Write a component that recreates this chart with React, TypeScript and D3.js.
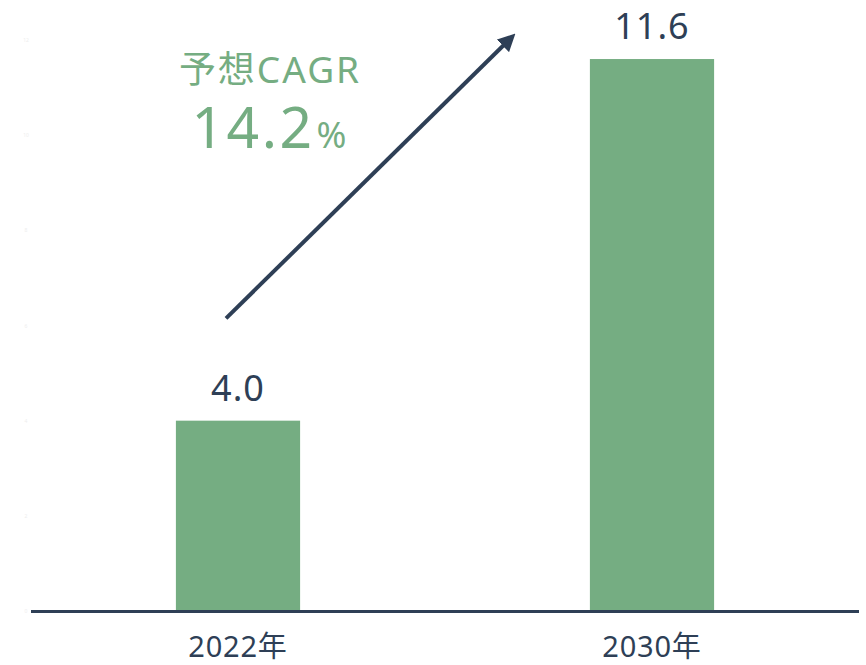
import React from "react";
import * as d3 from "d3";

// data
const years = ["2022年", "2030年"];
const values = [4.0, 11.6];
const yTicks = [0, 2, 4, 6, 8, 10, 12];
const cagrTitle = "予想CAGR";
const cagrValue = "14.2";

const W = 866;
const H = 665;
const FONT = "'Noto Sans', 'Noto Sans CJK JP', sans-serif";
const BAR = "#75ad82";
const DARK = "#2e3f56";

export default function App() {
  const x = d3.scaleBand<string>()
    .domain(years)
    .range([31, 859])
    .paddingInner(0.7)
    .paddingOuter(0.35);

  const y = d3.scaleLinear().domain([0, 12]).range([611, 40]);

  // arrow goes from above the first bar up toward the second one
  const x0 = x(years[0])! + x.bandwidth() / 2 - 12;
  const y0 = y(6.15);
  const x1 = x(years[1])! - 82;
  const y1 = y(11.98);

  return (
    <svg width={W} height={H} style={{ position: "absolute", left: 0, top: 0, background: "#fff" }}>
      <defs>
        <marker id="arrowhead" viewBox="0 0 10 10" refX="4" refY="5"
          markerWidth="4.4" markerHeight="4.4" orient="auto">
          <path d="M0,0 L10,5 L0,10 z" fill={DARK} />
        </marker>
      </defs>

      {/* faint y tick labels */}
      <g>
        {yTicks.map(t => (
          <text key={t} x={26} y={y(t) + 2} textAnchor="middle" fontSize={5}
            fontFamily={FONT} fill="#eeeeee">{t}</text>
        ))}
      </g>

      {/* bars */}
      <g>
        {years.map((c, i) => (
          <rect key={c} x={x(c)} y={y(values[i])} width={x.bandwidth()}
            height={y(0) - y(values[i])} fill={BAR} />
        ))}
      </g>

      {/* value labels */}
      <g>
        {years.map((c, i) => (
          <text key={c} x={x(c)! + x.bandwidth() / 2} y={y(values[i]) - 20}
            textAnchor="middle" fontSize={36} fontFamily={FONT}
            fill={DARK} letterSpacing={1}>
            {values[i].toFixed(1)}
          </text>
        ))}
      </g>

      {/* baseline */}
      <line x1={31} x2={859} y1={y(0) + 0.5} y2={y(0) + 0.5} stroke={DARK} strokeWidth={3} />

      {/* category labels */}
      <g>
        {years.map(c => (
          <text key={c} x={x(c)! + x.bandwidth() / 2} y={657} textAnchor="middle"
            fontSize={29} fontFamily={FONT} fill={DARK} letterSpacing={0.8}>
            {c}
          </text>
        ))}
      </g>

      {/* CAGR annotation */}
      <line x1={x0} y1={y0} x2={x1} y2={y1} stroke={DARK} strokeWidth={4}
        markerEnd="url(#arrowhead)" />
      <text x={270} y={83} textAnchor="middle" fontSize={37} fontFamily={FONT}
        fill={BAR} letterSpacing={2}>
        {cagrTitle}
      </text>
      <text x={269} y={148} textAnchor="middle" fontFamily={FONT} fill={BAR}>
        <tspan fontSize={57} letterSpacing={2.5}>{cagrValue}</tspan>
        <tspan fontSize={36} dx={2}>%</tspan>
      </text>
    </svg>
  );
}
